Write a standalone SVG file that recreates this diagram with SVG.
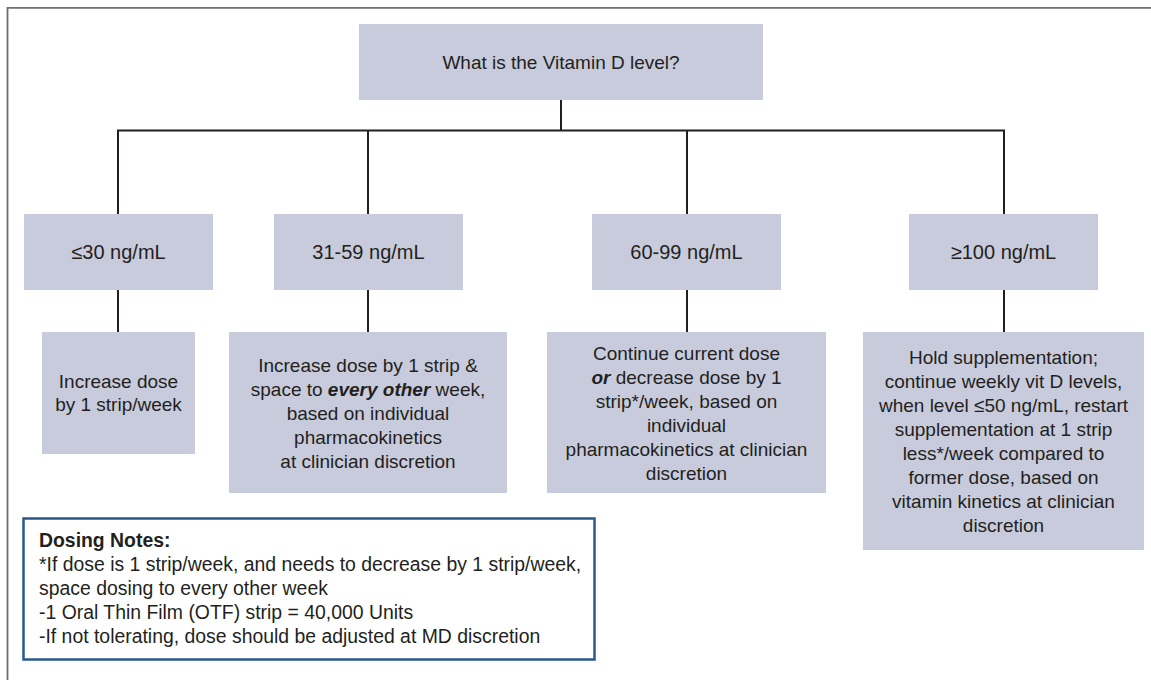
<svg xmlns="http://www.w3.org/2000/svg" width="1151" height="680" viewBox="0 0 1151 680">
<style>
.box{fill:#c8cbdc;}
.t{font-family:"Liberation Sans",Arial,Helvetica,sans-serif;font-size:19px;fill:#231f20;text-anchor:middle;}
.lv{font-size:20px;}
.n{font-family:"Liberation Sans",Arial,Helvetica,sans-serif;font-size:19.4px;fill:#231f20;}
.bi{font-weight:bold;font-style:italic;}
.conn{stroke:#231f20;stroke-width:2;fill:none;}
</style>
<rect width="1151" height="680" fill="#ffffff"/>
<path d="M7.5,680 V7.8 H1151" fill="none" stroke="#6d6e71" stroke-width="1.8"/>
<g id="connectors" class="conn">
<path d="M561,100 V130.5"/>
<path d="M118,214 V130.5 H1004 V214"/>
<path d="M368,130.5 V214"/>
<path d="M687,130.5 V214"/>
<path d="M118,290 V332"/>
<path d="M368,290 V332"/>
<path d="M687,290 V332"/>
<path d="M1004,290 V332"/>
</g>
<g id="q">
<rect class="box" x="359" y="24" width="404" height="76"/>
<text class="t" x="561" y="68.5">What is the Vitamin D level?</text>
</g>
<g id="l1">
<rect class="box" x="24" y="214" width="189" height="76"/>
<text class="t lv" x="118.5" y="259">≤30 ng/mL</text>
</g>
<g id="l2">
<rect class="box" x="274" y="214" width="189" height="76"/>
<text class="t lv" x="368.5" y="259">31-59 ng/mL</text>
</g>
<g id="l3">
<rect class="box" x="592" y="214" width="189" height="76"/>
<text class="t lv" x="686.5" y="259">60-99 ng/mL</text>
</g>
<g id="l4">
<rect class="box" x="909" y="214" width="189" height="76"/>
<text class="t lv" x="1003.5" y="259">≥100 ng/mL</text>
</g>
<g id="a1">
<rect class="box" x="42" y="332" width="153" height="122"/>
<text class="t" x="118.5" y="388">Increase dose</text>
<text class="t" x="118.5" y="411">by 1 strip/week</text>
</g>
<g id="a2">
<rect class="box" x="229" y="332" width="278" height="161"/>
<text class="t" x="368" y="372">Increase dose by 1 strip &amp;</text>
<text class="t" x="368" y="396">space to <tspan class="bi">every other</tspan> week,</text>
<text class="t" x="368" y="420">based on individual</text>
<text class="t" x="368" y="444">pharmacokinetics</text>
<text class="t" x="368" y="467.5">at clinician discretion</text>
</g>
<g id="a3">
<rect class="box" x="547" y="332" width="279" height="161"/>
<text class="t" x="686.5" y="359.5">Continue current dose</text>
<text class="t" x="686.5" y="383.5"><tspan class="bi">or</tspan> decrease dose by 1</text>
<text class="t" x="686.5" y="407.5">strip*/week, based on</text>
<text class="t" x="686.5" y="431.5">individual</text>
<text class="t" x="686.5" y="455.5">pharmacokinetics at clinician</text>
<text class="t" x="686.5" y="479.5">discretion</text>
</g>
<g id="a4">
<rect class="box" x="863" y="332" width="281" height="218"/>
<text class="t" x="1003.5" y="363.5">Hold supplementation;</text>
<text class="t" x="1003.5" y="387.5">continue weekly vit D levels,</text>
<text class="t" x="1003.5" y="411.5">when level ≤50 ng/mL, restart</text>
<text class="t" x="1003.5" y="435.5">supplementation at 1 strip</text>
<text class="t" x="1003.5" y="459.5">less*/week compared to</text>
<text class="t" x="1003.5" y="483.5">former dose, based on</text>
<text class="t" x="1003.5" y="507.5">vitamin kinetics at clinician</text>
<text class="t" x="1003.5" y="531.5">discretion</text>
</g>
<g id="notes">
<rect x="23.5" y="518.5" width="571" height="141" fill="#ffffff" stroke="#2a5a8a" stroke-width="2.5"/>
<text class="n" x="39" y="547" font-weight="bold">Dosing Notes:</text>
<text class="n" x="39" y="571">*If dose is 1 strip/week, and needs to decrease by 1 strip/week,</text>
<text class="n" x="39" y="595">space dosing to every other week</text>
<text class="n" x="39" y="619">-1 Oral Thin Film (OTF) strip = 40,000 Units</text>
<text class="n" x="39" y="643">-If not tolerating, dose should be adjusted at MD discretion</text>
</g>
</svg>
